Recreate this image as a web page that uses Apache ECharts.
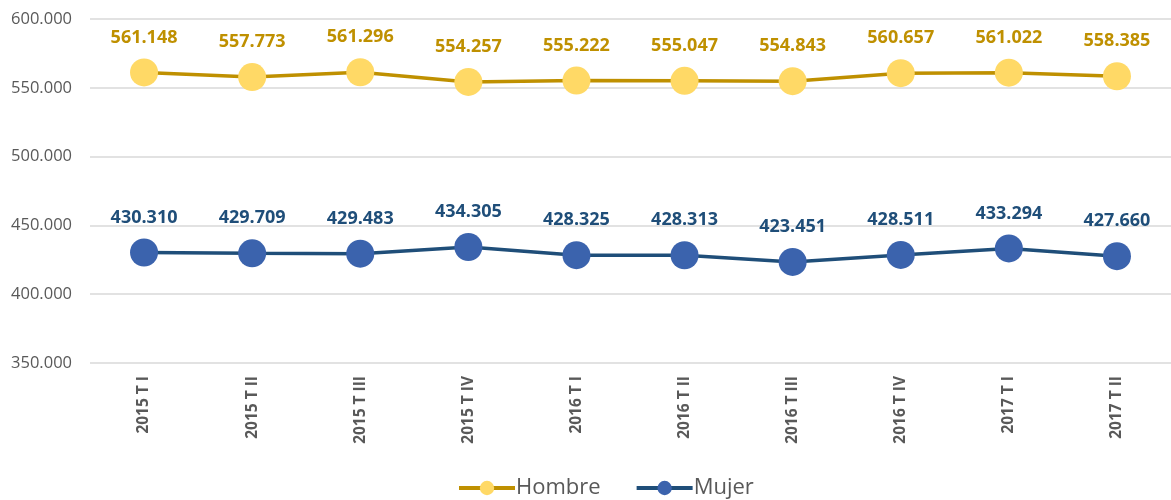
<!DOCTYPE html>
<html><head><meta charset="utf-8">
<script src="https://cdn.jsdelivr.net/npm/echarts@6/dist/echarts.min.js"></script>
<style>html,body{margin:0;padding:0;background:#fff}#c{width:1171px;height:500px}</style>
</head><body><div id="c"></div>
<script>
const categories = ['2015 T I','2015 T II','2015 T III','2015 T IV','2016 T I','2016 T II','2016 T III','2016 T IV','2017 T I','2017 T II'];
const hombre = [561148, 557773, 561296, 554257, 555222, 555047, 554843, 560657, 561022, 558385];
const mujer = [430310, 429709, 429483, 434305, 428325, 428313, 423451, 428511, 433294, 427660];
const yMin = 350000, yMax = 600000, yStep = 50000;

function fmt(v){
  return String(Math.round(v)).replace(/\B(?=(\d{3})+(?!\d))/g, '.');
}

const font = 'Open Sans';
const chart = echarts.init(document.getElementById('c'));
chart.setOption({
  animation: false,
  grid: { left: 90, right: -8, top: 19, bottom: 137, containLabel: false },
  legend: {
    bottom: -4, left: 452,
    itemWidth: 56, itemHeight: 18, itemGap: 34,
    lineStyle: { width: 4 },
    textStyle: { fontFamily: font, fontSize: 22, color: '#595959', padding: [0,0,0,-4] },
    data: ['Hombre','Mujer']
  },
  xAxis: {
    type: 'category', data: categories, boundaryGap: true,
    axisLine: { show: false }, axisTick: { show: false },
    axisLabel: { rotate: 90, fontFamily: font, fontSize: 15.5, fontWeight: 'bold', color: '#595959', margin: 13 }
  },
  yAxis: {
    type: 'value', min: yMin, max: yMax, interval: yStep,
    axisLine: { show: false }, axisTick: { show: false },
    splitLine: { lineStyle: { color: '#d9d9d9', width: 1.5 } },
    axisLabel: { fontFamily: font, fontSize: 16.5, color: '#595959', margin: 18,
      formatter: v => fmt(v) }
  },
  series: [
    { name: 'Hombre', type: 'line', data: hombre,
      symbol: 'circle', symbolSize: 28,
      lineStyle: { color: '#BF9000', width: 3.5 },
      itemStyle: { color: '#FFD966', borderWidth: 0 },
      label: { show: true, position: 'top', distance: 12, fontFamily: font, fontSize: 18, fontWeight: 'bold', color: '#BF9000',
        formatter: p => fmt(p.value) }
    },
    { name: 'Mujer', type: 'line', data: mujer,
      symbol: 'circle', symbolSize: 28,
      lineStyle: { color: '#1F4E79', width: 3.5 },
      itemStyle: { color: '#3B63AD', borderWidth: 0 },
      label: { show: true, position: 'top', distance: 12, fontFamily: font, fontSize: 18, fontWeight: 'bold', color: '#1F4E79',
        formatter: p => fmt(p.value) }
    }
  ]
});
</script></body></html>
